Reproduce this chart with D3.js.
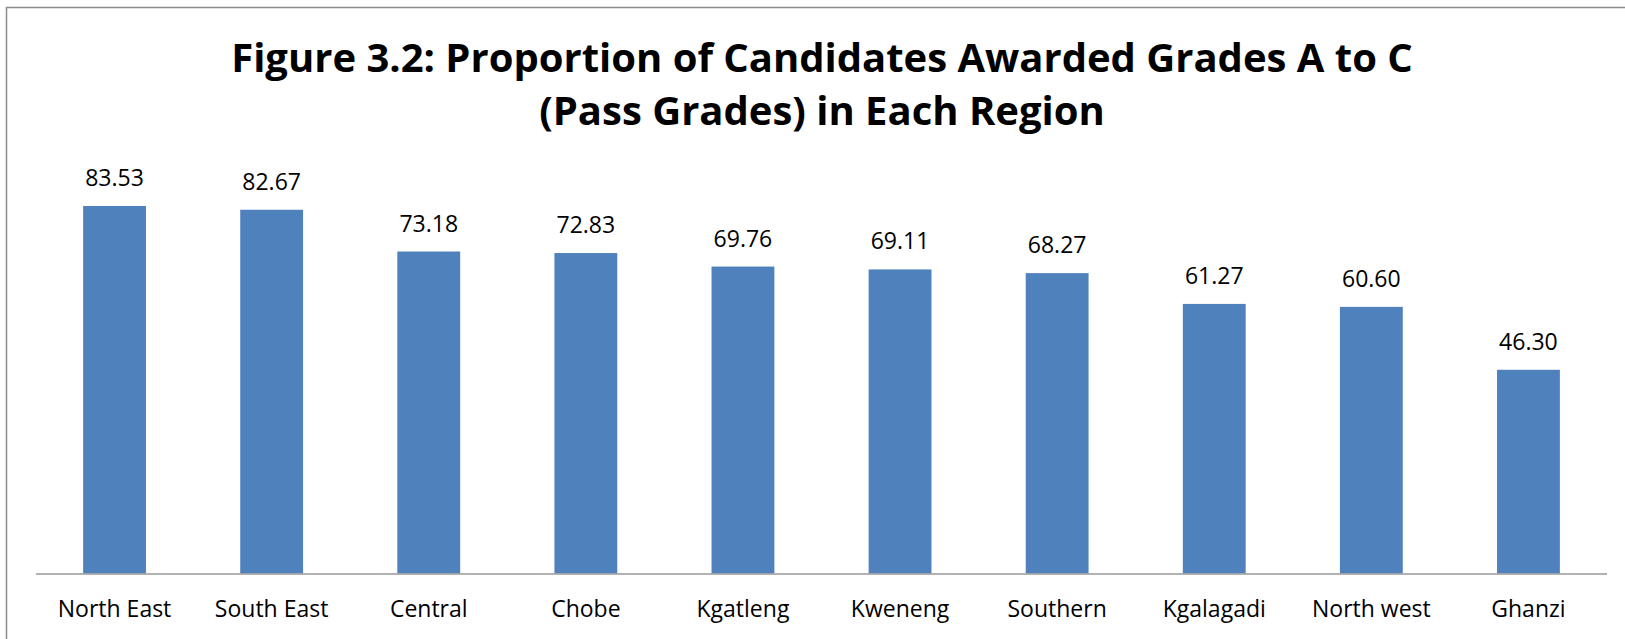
<!DOCTYPE html>
<html lang="en">
<head>
  <meta charset="UTF-8"/>
  <title>Figure 3.2</title>
  <script src="https://d3js.org/d3.v7.min.js"></script>
  <style>
    body { margin: 0; background: #fff; }
    svg { display: block; font-family: "Open Sans", sans-serif; }
    .value, .tick text { font-size: 23px; fill: #000; }
    .title { font-size: 40px; font-weight: bold; fill: #000; }
  </style>
</head>
<body>
<svg width="1625" height="639"></svg>
<script>
const regions = ['North East', 'South East', 'Central', 'Chobe', 'Kgatleng',
                 'Kweneng', 'Southern', 'Kgalagadi', 'North west', 'Ghanzi'];
const passRates = [83.53, 82.67, 73.18, 72.83, 69.76, 69.11, 68.27, 61.27, 60.60, 46.30];
const titleLines = ['Figure 3.2: Proportion of Candidates Awarded Grades A to C',
                    '(Pass Grades) in Each Region'];

const data = regions.map((r, i) => ({ region: r, value: passRates[i] }));

const svg = d3.select('svg');
const plotLeft = 36, plotRight = 1607, plotTop = 177.5, plotBottom = 573.5;

// chart border (only top and left edges show in the crop)
svg.append('path')
  .attr('d', 'M6.5,639 V7.5 H1625')
  .attr('fill', 'none')
  .attr('stroke', '#8c8c8c')
  .attr('stroke-width', 1.5);

const x = d3.scaleBand()
  .domain(regions)
  .range([plotLeft, plotRight])
  .paddingInner(0.6)
  .paddingOuter(0.3);

const y = d3.scaleLinear()
  .domain([0, 90])
  .range([plotBottom, plotTop]);

svg.selectAll('.bar')
  .data(data)
  .enter()
  .append('rect')
  .attr('class', 'bar')
  .attr('x', d => x(d.region))
  .attr('y', d => y(d.value))
  .attr('width', x.bandwidth())
  .attr('height', d => plotBottom - y(d.value))
  .attr('fill', '#4f81bd');

svg.selectAll('.value')
  .data(data)
  .enter()
  .append('text')
  .attr('class', 'value')
  .attr('x', d => x(d.region) + x.bandwidth() / 2)
  .attr('y', d => y(d.value) - 20)
  .attr('text-anchor', 'middle')
  .text(d => d.value.toFixed(2));

const xAxis = svg.append('g')
  .attr('transform', `translate(0, ${plotBottom})`)
  .call(d3.axisBottom(x).tickSize(0).tickPadding(0));

xAxis.select('.domain')
  .attr('d', `M${plotLeft},0.5H${plotRight}`)
  .attr('stroke', '#999')
  .attr('stroke-width', 1.5);

xAxis.attr('font-family', null).attr('font-size', null);
xAxis.selectAll('.tick text')
  .attr('dy', null)
  .attr('y', 43);

svg.append('text')
  .attr('class', 'title')
  .attr('text-anchor', 'middle')
  .selectAll('tspan')
  .data(titleLines)
  .enter()
  .append('tspan')
  .attr('x', 822)
  .attr('y', (d, i) => 72 + i * 53)
  .text(d => d);
</script>
</body>
</html>
